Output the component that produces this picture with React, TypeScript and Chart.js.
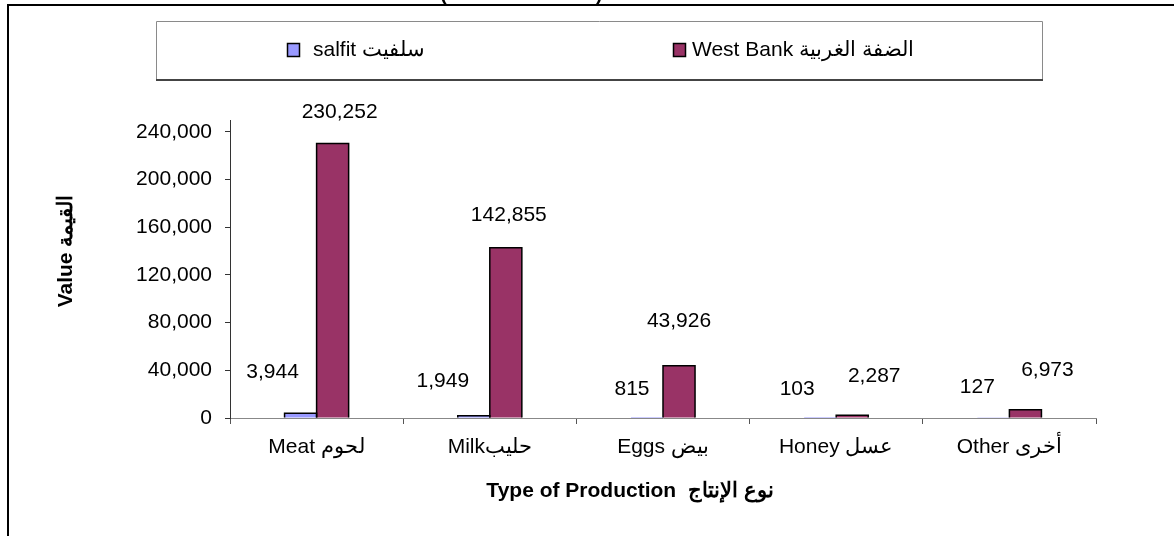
import { useEffect, useRef } from "react";
import { Chart, registerables } from "chart.js";

Chart.register(...registerables);

// ---- data ----
const categories = ["Meat لحوم", "Milkحليب", "Eggs بيض", "Honey عسل", "Other أخرى"];
const salfitValues = [3944, 1949, 815, 103, 127];
const westBankValues = [230252, 142855, 43926, 2287, 6973];
const seriesNames = ["salfit سلفيت", "West Bank الضفة الغربية"];
const yTickValues = [0, 40000, 80000, 120000, 160000, 200000, 240000];
const yAxisTitle = "Value القيمة";
const xAxisTitle = "Type of Production  نوع الإنتاج";
const yMax = 250000;

// ---- styling (label nudges in px, relative to bar top centre) ----
const salfitLabelNudge = [[-28, -41], [-31, -34], [-15, -28], [-23, -29], [-16, -31]];
const westBankLabelNudge = [[7, -31], [3, -33], [0, -44], [22, -39], [22, -39]];
const colors = ["#9999FF", "#993366"];
const FONT = "'Liberation Sans', Arial, sans-serif";
const FS = 21;

const fmt = (v: number) => v.toLocaleString("en-US");

const decorPlugin = {
  id: "decor",
  beforeDraw(chart: any) {
    const ctx = chart.ctx;
    ctx.save();
    ctx.fillStyle = "#ffffff";
    ctx.fillRect(0, 0, chart.width, chart.height);
    ctx.restore();
  },
  afterDatasetsDraw(chart: any) {
    const ctx = chart.ctx;
    const nudges = [salfitLabelNudge, westBankLabelNudge];
    ctx.save();
    // Excel-like outlines centred on the bar edges
    ctx.strokeStyle = "#000";
    ctx.lineWidth = 1.5;
    chart.data.datasets.forEach((_ds: any, di: number) => {
      const meta = chart.getDatasetMeta(di);
      meta.data.forEach((el: any) => {
        const p = el.getProps(["x", "y", "base", "width"], true);
        const h = p.base - p.y;
        if (h < 1.5) return;
        const l = p.x - p.width / 2;
        const r = p.x + p.width / 2;
        ctx.beginPath();
        ctx.moveTo(l, p.base);
        ctx.lineTo(l, p.y);
        ctx.lineTo(r, p.y);
        ctx.lineTo(r, p.base);
        ctx.stroke();
      });
    });
    ctx.font = `${FS}px ${FONT}`;
    ctx.fillStyle = "#000";
    ctx.textAlign = "center";
    ctx.textBaseline = "middle";
    chart.data.datasets.forEach((ds: any, di: number) => {
      const meta = chart.getDatasetMeta(di);
      meta.data.forEach((el: any, i: number) => {
        const [dx, dy] = nudges[di][i];
        ctx.fillText(fmt(ds.data[i]), el.x + dx, el.y + dy);
      });
    });
    ctx.restore();
  },
  afterDraw(chart: any) {
    const ctx = chart.ctx;
    ctx.save();
    // cut-off title remnants
    ctx.fillStyle = "#000";
    ctx.font = `bold 20px ${FONT}`;
    ctx.textBaseline = "alphabetic";
    ctx.textAlign = "left";
    ctx.fillText("(", 440, 0);
    ctx.fillText(")", 596, 0);
    // outer frame
    ctx.fillRect(7, 4, chart.width - 7, 2);
    ctx.fillRect(7, 4, 2, chart.height - 4);

    // legend box
    const lx = 156, ly = 21, lw = 887, lh = 59;
    ctx.fillStyle = "#fff";
    ctx.fillRect(lx, ly, lw, lh);
    ctx.strokeStyle = "#8a8a8a";
    ctx.lineWidth = 1;
    ctx.beginPath();
    ctx.moveTo(lx + 0.5, ly + lh);
    ctx.lineTo(lx + 0.5, ly + 0.5);
    ctx.lineTo(lx + lw - 0.5, ly + 0.5);
    ctx.lineTo(lx + lw - 0.5, ly + lh);
    ctx.stroke();
    ctx.fillStyle = "#444";
    ctx.fillRect(lx, ly + lh - 1, lw, 2);

    const items = [
      { sx: 287, tx: 313 },
      { sx: 673, tx: 692 },
    ];
    ctx.font = `${FS}px ${FONT}`;
    ctx.textBaseline = "middle";
    ctx.textAlign = "left";
    items.forEach((it, i) => {
      ctx.fillStyle = colors[i];
      ctx.fillRect(it.sx, 43, 13, 14);
      ctx.strokeStyle = "#000";
      ctx.lineWidth = 1.5;
      ctx.strokeRect(it.sx + 0.5, 43.5, 12, 13);
      ctx.fillStyle = "#000";
      ctx.fillText(seriesNames[i], it.tx, 50);
    });

    // axis titles
    ctx.font = `bold ${FS}px ${FONT}`;
    ctx.textAlign = "center";
    ctx.textBaseline = "middle";
    ctx.fillText(xAxisTitle, 630, 491);
    ctx.translate(66, 251);
    ctx.rotate(-Math.PI / 2);
    ctx.fillText(yAxisTitle, 0, 0);
    ctx.restore();
  },
};

export default function App() {
  const canvasRef = useRef<HTMLCanvasElement | null>(null);

  useEffect(() => {
    if (!canvasRef.current) return;
    const chart = new Chart(canvasRef.current, {
      type: "bar",
      data: {
        labels: categories,
        datasets: [
          {
            label: seriesNames[0],
            data: salfitValues,
            backgroundColor: colors[0],
            borderWidth: 0,
            categoryPercentage: 0.37,
            barPercentage: 1,
          },
          {
            label: seriesNames[1],
            data: westBankValues,
            backgroundColor: colors[1],
            borderWidth: 0,
            categoryPercentage: 0.37,
            barPercentage: 1,
          },
        ],
      },
      options: {
        animation: false,
        responsive: true,
        maintainAspectRatio: false,
        layout: { padding: { top: 120, left: 20, right: 78, bottom: 0 } },
        plugins: {
          legend: { display: false },
          title: { display: false },
          tooltip: { enabled: false },
        },
        scales: {
          x: {
            afterFit: (s: any) => {
              s.height = 118;
            },
            grid: {
              display: true,
              offset: true,
              drawOnChartArea: false,
              drawTicks: true,
              tickLength: 6,
              color: "#555",
            },
            border: { display: true, color: "#888", width: 1 },
            ticks: {
              color: "#000",
              font: { family: FONT, size: FS },
              padding: 11,
              maxRotation: 0,
              autoSkip: false,
            },
          },
          y: {
            min: 0,
            max: yMax,
            afterFit: (s: any) => {
              s.width = 210;
            },
            afterBuildTicks: (s: any) => {
              s.ticks = yTickValues.map((v) => ({ value: v }));
            },
            grid: {
              display: true,
              drawOnChartArea: false,
              drawTicks: true,
              tickLength: 5,
              color: "#333",
            },
            border: { display: true, color: "#333", width: 1 },
            ticks: {
              color: "#000",
              font: { family: FONT, size: FS },
              padding: 13,
              callback: (v: any) => fmt(Number(v)),
            },
          },
        },
      },
      plugins: [decorPlugin],
    });
    return () => chart.destroy();
  }, []);

  return (
    <div style={{ position: "fixed", left: 0, top: 0, width: 1174, height: 536, background: "#fff" }}>
      <canvas ref={canvasRef} />
    </div>
  );
}
